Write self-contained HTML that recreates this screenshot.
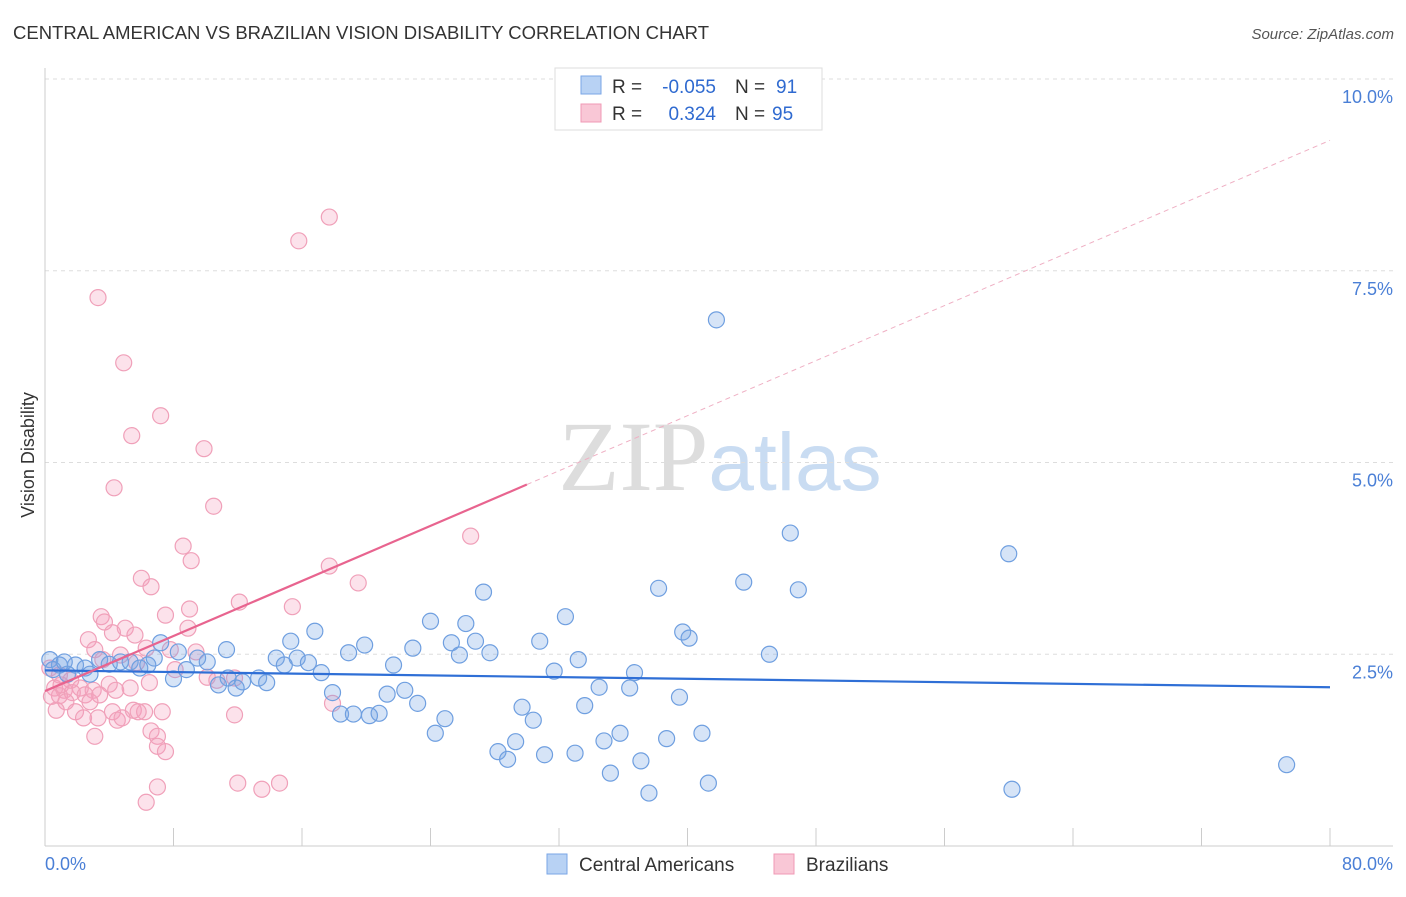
<!DOCTYPE html>
<html><head><meta charset="utf-8"><style>
body{margin:0;background:#fff;font-family:"Liberation Sans",sans-serif}
</style></head><body>
<svg width="1406" height="892" xmlns="http://www.w3.org/2000/svg" font-family="Liberation Sans, sans-serif">
<text x="13" y="39" font-size="18.5" fill="#333" textLength="696">CENTRAL AMERICAN VS BRAZILIAN VISION DISABILITY CORRELATION CHART</text>
<text x="1394" y="39" font-size="15" fill="#555" font-style="italic" text-anchor="end">Source: ZipAtlas.com</text>
<text x="720" y="490" font-size="100" text-anchor="middle" fill="#ddd" font-family="Liberation Serif, serif">ZIP<tspan fill="#c9dcf2" font-family="Liberation Sans, sans-serif" font-size="82">atlas</tspan></text>
<g id="grid"></g>
<g id="axes"></g>
<g id="pts"></g>
<g id="lines"></g>
<text transform="translate(34,455) rotate(-90)" font-size="18" fill="#333" text-anchor="middle">Vision Disability</text>
<text x="45" y="870" font-size="18" fill="#4a7fd6">0.0%</text>
<text x="1393" y="870" font-size="18" fill="#4a7fd6" text-anchor="end">80.0%</text>
<g font-size="19">
<rect x="555" y="68" width="267" height="62" fill="#fff" stroke="#ddd"/>
<rect x="581" y="76" width="20" height="18" fill="#b8d2f4" stroke="#7aa6e6"/>
<rect x="581" y="104" width="20" height="18" fill="#f9c7d6" stroke="#f09ab5"/>
<text x="612" y="93" fill="#333">R =</text>
<text x="716" y="93" fill="#2f6ad0" text-anchor="end">-0.055</text>
<text x="735" y="93" fill="#333">N =</text>
<text x="776" y="93" fill="#2f6ad0">91</text>
<text x="612" y="120" fill="#333">R =</text>
<text x="716" y="120" fill="#2f6ad0" text-anchor="end">0.324</text>
<text x="735" y="120" fill="#333">N =</text>
<text x="772" y="120" fill="#2f6ad0">95</text>
</g>
<g>
<rect x="547" y="854" width="20" height="20" fill="#b8d2f4" stroke="#7aa6e6"/>
<text x="579" y="871" font-size="19" fill="#333">Central Americans</text>
<rect x="774" y="854" width="20" height="20" fill="#f9c7d6" stroke="#f09ab5"/>
<text x="806" y="871" font-size="19" fill="#333">Brazilians</text>
</g>
</svg>
<script>
const yTicks=[2.5,5.0,7.5,10.0];
const xTicks=[0,8,16,24,32,40,48,56,64,72,80];
const blueX=[41.8,46.4,60.0,43.5,46.9,38.2,27.3,32.4,24.0,26.2,39.7,40.1,16.8,15.3,30.8,26.8,25.3,19.9,22.9,18.9,25.8,27.7,45.1,33.2,11.3,7.2,8.3,10.1,9.5,14.4,15.7,16.4,14.9,21.7,17.2,31.7,36.7,8.8,8.0,11.4,12.3,13.3,13.8,10.8,11.9,34.5,36.4,22.4,21.3,17.9,39.5,23.2,29.7,33.6,18.4,19.2,20.2,20.8,24.9,30.4,24.3,35.8,40.9,34.8,38.7,29.3,28.2,28.8,31.1,33.0,37.1,35.2,41.3,37.6,60.2,77.3,0.3,0.9,1.9,2.5,3.4,4.0,4.7,5.3,5.9,6.4,6.8,2.8,1.4,0.5,1.2];
const blueY=[6.86,4.08,3.81,3.44,3.34,3.36,3.31,2.99,2.93,2.90,2.79,2.71,2.80,2.67,2.67,2.67,2.65,2.62,2.58,2.52,2.49,2.52,2.50,2.43,2.56,2.65,2.53,2.40,2.45,2.45,2.45,2.39,2.36,2.36,2.26,2.28,2.26,2.30,2.18,2.19,2.14,2.19,2.13,2.10,2.06,2.07,2.06,2.03,1.98,2.00,1.94,1.86,1.81,1.83,1.72,1.72,1.70,1.73,1.66,1.64,1.47,1.47,1.47,1.37,1.40,1.36,1.23,1.13,1.19,1.21,1.11,0.95,0.82,0.69,0.74,1.06,2.43,2.36,2.36,2.32,2.43,2.37,2.40,2.40,2.32,2.36,2.45,2.24,2.24,2.30,2.40];
const pinkX=[17.7,15.8,3.3,4.9,7.2,5.4,9.9,4.3,10.5,26.5,8.6,9.1,17.7,6.0,6.6,19.5,12.1,15.4,9.0,7.5,3.5,3.7,5.0,4.2,5.6,8.9,2.7,6.3,3.1,7.8,4.7,9.4,3.6,5.7,8.1,10.1,10.7,11.8,6.5,4.0,3.0,2.2,1.2,0.6,0.9,1.7,2.5,4.4,5.3,3.4,17.9,1.3,2.8,0.7,1.9,4.2,5.5,6.2,7.3,11.8,2.4,3.3,4.5,4.8,5.8,6.6,3.1,7.0,7.0,7.5,12.0,13.5,14.6,7.0,6.3,0.3,0.9,1.6,0.4,1.0];
const pinkY=[8.20,7.89,7.15,6.30,5.61,5.35,5.18,4.67,4.43,4.04,3.91,3.72,3.65,3.49,3.38,3.43,3.18,3.12,3.09,3.01,2.99,2.92,2.84,2.78,2.75,2.84,2.69,2.58,2.56,2.56,2.49,2.53,2.43,2.39,2.30,2.20,2.16,2.19,2.13,2.11,2.03,2.06,2.03,2.06,1.96,2.00,1.97,2.03,2.06,1.97,1.86,1.88,1.88,1.77,1.75,1.75,1.77,1.75,1.75,1.71,1.67,1.67,1.64,1.67,1.75,1.50,1.43,1.43,1.30,1.23,0.82,0.74,0.82,0.77,0.57,2.32,2.23,2.16,1.95,2.10];
const blueFit=[2.29,2.07];
const pinkFit=[2.02,9.2];
const pinkSolidEnd=30.0;
const X0=45,X1=1330,YB=846,YT=79;
const sx=v=>X0+(v/80)*(X1-X0);
const sy=v=>YB-(v/10)*(YB-YT);
const NS='http://www.w3.org/2000/svg';
function mk(tag,attrs,parent){const e=document.createElementNS(NS,tag);for(const k in attrs)e.setAttribute(k,attrs[k]);parent.appendChild(e);return e;}
const grid=document.getElementById('grid'),axes=document.getElementById('axes'),pts=document.getElementById('pts'),lines=document.getElementById('lines');
yTicks.forEach(t=>{
 const l=mk('line',{x1:X0,x2:1393,y1:sy(t),y2:sy(t),stroke:'#ddd','stroke-dasharray':'4,4'},grid);
 
 
 const tx=mk('text',{x:1393,y:sy(t)+24,'font-size':18,fill:'#4a7fd6','text-anchor':'end'},grid);
 tx.textContent=t.toFixed(1)+'%';
 
 
});
const ya=mk('line',{x1:X0,x2:X0,y1:68,y2:YB,stroke:'#ccc'},axes);


const xa=mk('line',{x1:X0,x2:1393,y1:YB,y2:YB,stroke:'#ccc'},axes);


xTicks.forEach(t=>{
 const l=mk('line',{x1:sx(t),x2:sx(t),y1:828,y2:YB,stroke:'#ccc'},axes);
 
 
});
pinkX.forEach((v,i)=>{
 const c=mk('circle',{cx:sx(v),cy:sy(pinkY[i]),r:8,fill:'rgba(244,160,188,0.3)',stroke:'#f0a0b9','stroke-width':1.2},pts);
 
 
});
blueX.forEach((v,i)=>{
 const c=mk('circle',{cx:sx(v),cy:sy(blueY[i]),r:8,fill:'rgba(120,165,230,0.3)',stroke:'#6f9fe0','stroke-width':1.2},pts);
 
 
});
const pv=x=>pinkFit[0]+(pinkFit[1]-pinkFit[0])*x/80;
const bl=mk('line',{x1:sx(0),y1:sy(blueFit[0]),x2:sx(80),y2:sy(blueFit[1]),stroke:'#2f6fd6','stroke-width':2.2},lines);


const pl=mk('line',{x1:sx(0),y1:sy(pv(0)),x2:sx(pinkSolidEnd),y2:sy(pv(pinkSolidEnd)),stroke:'#e8648f','stroke-width':2.2},lines);


const pd=mk('line',{x1:sx(pinkSolidEnd),y1:sy(pv(pinkSolidEnd)),x2:sx(80),y2:sy(pv(80)),stroke:'#efb0c4','stroke-width':1,'stroke-dasharray':'5,4'},lines);


</script>
</body></html>
